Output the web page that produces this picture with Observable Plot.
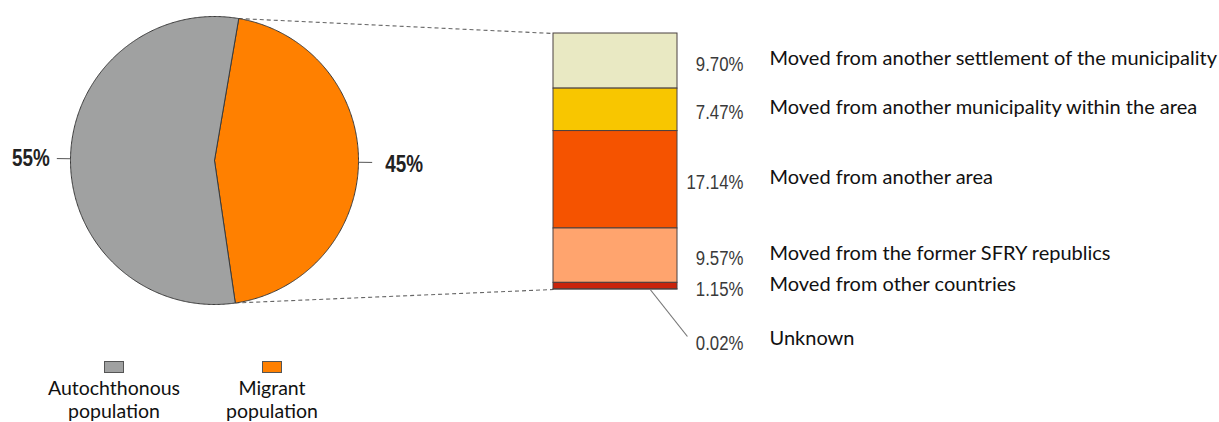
<!DOCTYPE html>
<html>
<head>
<meta charset="utf-8">
<script src="https://cdn.jsdelivr.net/npm/d3@7"></script>
<script src="https://cdn.jsdelivr.net/npm/@observablehq/plot@0.6"></script>
<style>
  html, body { margin: 0; padding: 0; background: #fff; }
  #chart { position: relative; width: 1219px; height: 422px; overflow: hidden; }
  #plots { position: relative; width: 1219px; height: 352px; }
  #plots svg { position: absolute; left: 0; top: 0; overflow: visible; background: none; }
  #legend { position: absolute; left: 0; top: 361px; width: 1219px; height: 61px; }
  .item { position: absolute; top: 0; width: 170px; text-align: center;
          font-family: Lato, "Open Sans", sans-serif; font-size: 19.5px; line-height: 23px; color: #111; }
  .sw { display: block; width: 18px; height: 10px; border: 1px solid #555; margin: 0 auto 3px auto; }
</style>
</head>
<body>
<div id="chart">
  <div id="plots"></div>
  <div id="legend"></div>
</div>
<script>
// ---------------- data ----------------
const pieGroups = ["Migrant population", "Autochthonous population"];
const pieValues = [45, 55];
const pieLabels = ["45%", "55%"];
const pieColors = ["#ff8000", "#a0a1a1"];

const legendGroups = ["Autochthonous population", "Migrant population"];
const legendLines = [["Autochthonous", "population"], ["Migrant", "population"]];
const legendColors = ["#a0a1a1", "#ff8000"];

const barCategories = [
  "Moved from another settlement of the municipality",
  "Moved from another municipality within the area",
  "Moved from another area",
  "Moved from the former SFRY republics",
  "Moved from other countries",
  "Unknown"
];
const barValues = [9.70, 7.47, 17.14, 9.57, 1.15, 0.02];
const barLabels = ["9.70%", "7.47%", "17.14%", "9.57%", "1.15%", "0.02%"];
const barColors = ["#e9e9c3", "#f8c600", "#f55300", "#ffa46e", "#c9230b", "#8a1a06"];

// ---------------- layout ----------------
const W = 1219, H = 352;
const PIE = { cx: 214, cy: 160, r: 144 };
const BAR = { left: 553, right: 677, top: 33, bottom: 289 };
const START = 9.7 * Math.PI / 180;   // migrant slice starts slightly right of 12 o'clock
const LEADER_R = 1.095;
const CALLOUT_PX = 51;               // tiny-segment callout distance below bar

const narrow = '"Liberation Sans", Arial, sans-serif';
const body = 'Lato, "Open Sans", sans-serif';

// ---------------- pie ----------------
const pieData = pieGroups.map((g, i) => ({ group: g, value: pieValues[i], label: pieLabels[i], color: pieColors[i] }));
const arcs = d3.pie().sort(null).value(d => d.value).startAngle(START).endAngle(START + 2 * Math.PI)(pieData);

const piePts = arcs.flatMap(a => {
  const n = Math.max(2, Math.ceil((a.endAngle - a.startAngle) / (Math.PI / 360)));
  const pts = [{ x: 0, y: 0 }];
  for (let i = 0; i <= n; i++) {
    const t = a.startAngle + (a.endAngle - a.startAngle) * i / n;
    pts.push({ x: Math.sin(t), y: -Math.cos(t) });
  }
  pts.push({ x: 0, y: 0 });
  return pts.map(p => ({ ...p, group: a.data.group, color: a.data.color }));
});

const pieLab = arcs.map(a => {
  const m = (a.startAngle + a.endAngle) / 2;
  return { label: a.data.label, s: Math.sin(m), c: -Math.cos(m) };
});

// connector endpoints (pie unit coordinates)
const migrantArc = arcs[0];
const toPie = (px, py) => ({ x: (px - PIE.cx) / PIE.r, y: (py - PIE.cy) / PIE.r });
const barTL = toPie(BAR.left, BAR.top), barBL = toPie(BAR.left, BAR.bottom);
const connectors = [
  { x1: Math.sin(migrantArc.startAngle), y1: -Math.cos(migrantArc.startAngle), x2: barTL.x, y2: barTL.y },
  { x1: Math.sin(migrantArc.endAngle), y1: -Math.cos(migrantArc.endAngle), x2: barBL.x, y2: barBL.y }
];

const piePlot = Plot.plot({
  width: W, height: H, margin: 0,
  x: { domain: [-1, 1], range: [PIE.cx - PIE.r, PIE.cx + PIE.r], axis: null },
  y: { domain: [-1, 1], range: [PIE.cy - PIE.r, PIE.cy + PIE.r], axis: null },
  color: { type: "identity" },
  style: { background: "none", overflow: "visible" },
  marks: [
    Plot.link(connectors, { x1: "x1", y1: "y1", x2: "x2", y2: "y2", stroke: "#666", strokeWidth: 1.1, strokeDasharray: "4,3" }),
    Plot.line(piePts, { x: "x", y: "y", z: "group", fill: "color", stroke: "#3a3a3a", strokeWidth: 1, curve: "linear" }),
    Plot.link(pieLab, { x1: d => d.s, y1: d => d.c, x2: d => d.s * LEADER_R, y2: d => d.c * LEADER_R, stroke: "#555", strokeWidth: 1 }),
    Plot.text(pieLab.filter(d => d.s >= 0), { x: d => d.s * LEADER_R, y: d => d.c * LEADER_R, text: "label", textAnchor: "start", dx: 13, dy: 2,
      fontFamily: narrow, fontWeight: "bold", fontSize: 23, fill: "#222" }),
    Plot.text(pieLab.filter(d => d.s < 0), { x: d => d.s * LEADER_R, y: d => d.c * LEADER_R, text: "label", textAnchor: "end", dx: -7, dy: 0,
      fontFamily: narrow, fontWeight: "bold", fontSize: 23, fill: "#222" })
  ]
});

// ---------------- bar ----------------
const total = d3.sum(barValues);
const pxPerUnit = (BAR.bottom - BAR.top) / total;
const cum = d3.cumsum(barValues);
const barData = barCategories.map((c, i) => {
  const mid = cum[i] - barValues[i] / 2;
  const small = barValues[i] < 0.5;
  return {
    category: c, value: barValues[i], label: barLabels[i], color: barColors[i],
    labelY: small ? total + CALLOUT_PX / pxPerUnit : mid, small
  };
});
const callouts = barData.filter(d => d.small).map(d => ({
  x1: 0.78, y1: total, x2: 1.08, y2: d.labelY - 4 / pxPerUnit
}));

const barPlot = Plot.plot({
  width: W, height: H, margin: 0,
  x: { domain: [0, 1], range: [BAR.left, BAR.right], axis: null },
  y: { domain: [0, total], range: [BAR.top, BAR.bottom], axis: null },
  color: { type: "identity" },
  style: { background: "none", overflow: "visible" },
  marks: [
    Plot.rectY(barData, { x1: 0, x2: 1, y: "value", fill: "color", stroke: "#4a4040", strokeWidth: 1 }),
    Plot.link(callouts, { x1: "x1", y1: "y1", x2: "x2", y2: "y2", stroke: "#777", strokeWidth: 1.2 }),
    Plot.text(barData, { x: 1, y: "labelY", text: "label", dx: 66, dy: 3, textAnchor: "end",
      fontFamily: narrow, fontSize: 20.5, fill: "#3a3a3a" }),
    Plot.text(barData, { x: 1, y: "labelY", text: "category", dx: 92, dy: -2, textAnchor: "start",
      fontFamily: body, fontSize: 20, fill: "#111" })
  ]
});

const plots = document.getElementById("plots");
plots.appendChild(piePlot);
plots.appendChild(barPlot);

// narrow-style numbers: condense the Arial-metric font horizontally around each label's anchor
document.querySelectorAll("#plots svg g").forEach(g => {
  if (g.getAttribute("font-family") !== narrow) return;
  g.querySelectorAll("text").forEach(t => {
    const tr = t.getAttribute("transform") || "";
    t.setAttribute("transform", (tr + " scale(0.82,1)").trim());
  });
});

// ---------------- legend ----------------
const legendCenters = [114, 272];
const legend = document.getElementById("legend");
legendGroups.forEach((g, i) => {
  const it = document.createElement("div");
  it.className = "item";
  it.style.left = (legendCenters[i] - 85) + "px";
  const sw = document.createElement("span");
  sw.className = "sw";
  sw.style.background = legendColors[i];
  it.appendChild(sw);
  legendLines[i].forEach(t => {
    const l = document.createElement("div");
    l.textContent = t;
    it.appendChild(l);
  });
  legend.appendChild(it);
});
</script>
</body>
</html>
